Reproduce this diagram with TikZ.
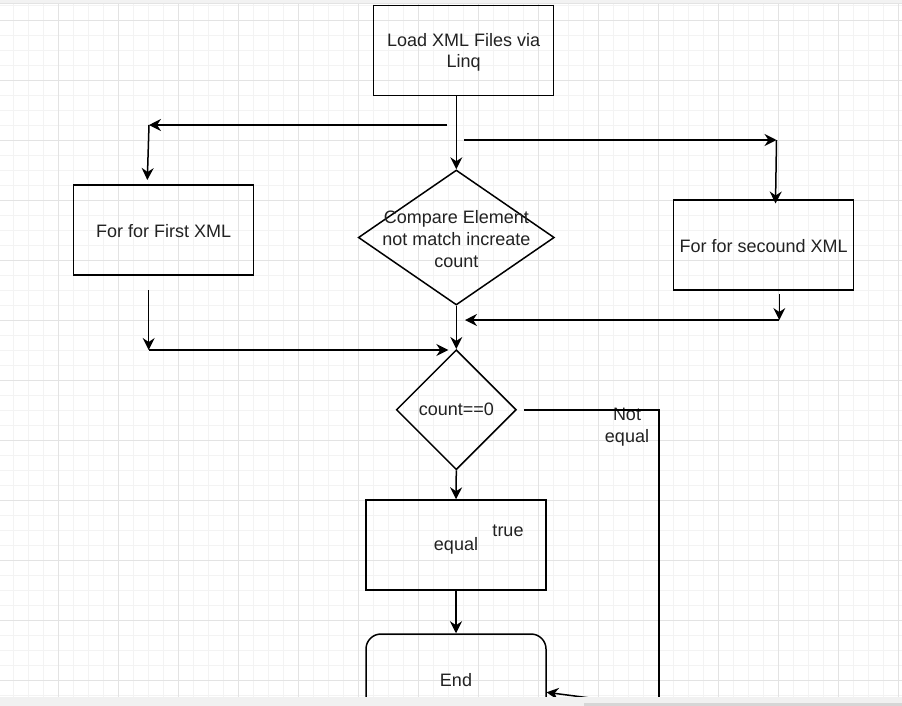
\documentclass[tikz,border=0pt]{standalone}
\usepackage{fontspec}
\setmainfont{Liberation Sans}
\usetikzlibrary{shapes.geometric,arrows.meta}
\definecolor{gridminor}{HTML}{F3F3F3}
\definecolor{gridmajor}{HTML}{E3E3E3}
\definecolor{txt}{HTML}{222222}
\definecolor{bandgray}{HTML}{F1F1F1}
\definecolor{thumbgray}{HTML}{D6D6D6}
\begin{document}
\begin{tikzpicture}[x=1pt,y=-1pt,
  box/.style={draw, line width=1.5pt, minimum width=180pt, minimum height=90pt, inner sep=0pt,
    font=\fontsize{18}{21.6}\selectfont, text=txt, align=center},
  dia/.style={draw, diamond, line width=1.5pt, inner sep=0pt},
  lbl/.style={font=\fontsize{18}{21.6}\selectfont, text=txt, align=center, inner sep=0pt},
  flow/.style={line width=1.5pt, -{Stealth[length=12pt,width=12pt,inset=4pt]}},
  conn/.style={line width=1.5pt},
  minorline/.style={draw=gridminor, line width=1pt},
  majorline/.style={draw=gridmajor, line width=1pt}]
\useasboundingbox (0,0) rectangle (902,705);
\clip (0,0) rectangle (902,705);
\fill[white] (0,0) rectangle (902,705);
% grid
\foreach \i in {0,...,60} {
  \draw[minorline] ({13.7+15*\i},0) -- ({13.7+15*\i},705);
  \draw[minorline] (0,{5+15*\i}) -- (902,{5+15*\i});
}
\foreach \i in {0,...,15} {
  \draw[majorline] ({58.7+60*\i},0) -- ({58.7+60*\i},705);
  \draw[majorline] (0,{20+60*\i}) -- (902,{20+60*\i});
}
% nodes
\node[box, label={[lbl, yshift=-2pt]center:{Load XML Files via\\Linq}}] (load) at (463.7,50.5) {};
\node[box, label={[lbl, yshift=-1pt]center:{For for First XML}}] (first) at (163.7,230) {};
\node[box, label={[lbl, yshift=-1pt]center:{For for secound XML}}] (second) at (763.7,245) {};
\node[dia, minimum width=196pt, minimum height=135pt,
  label={[lbl, yshift=-1.5pt]center:{Compare Element\\not match increate\\count}}] (cmp) at (456.3,237.5) {};
\node[dia, minimum width=120pt, minimum height=120pt,
  label={[lbl]center:{count==0}}] (cnt) at (456.3,409.7) {};
\node[box, label={[lbl, yshift=-1pt]center:{equal}}] (eq) at (456,545) {};
\node[box, rounded corners=15pt, label={[lbl, yshift=-1pt]center:{End}}] (end) at (456,679) {};
\node[lbl] (truelbl) at (508,531) {true};
\node[lbl] (nelbl) at (627,427) {Not\\equal};
% free connector ends
\coordinate (l0) at (447,125);
\coordinate (l1) at (149,125);
\coordinate (l2) at (147.3,180);
\coordinate (r0) at (464,140);
\coordinate (r1) at (776.5,140);
\coordinate (r2) at (775.5,203.5);
\coordinate (s0) at (779.3,294);
\coordinate (s1) at (779.3,320);
\coordinate (s2) at (465,320);
\coordinate (f0) at (148.7,290);
\coordinate (f1) at (148.7,350);
\coordinate (f2) at (448.3,350);
\coordinate (c0) at (524,410);
\coordinate (c1) at (659,410);
\coordinate (c2) at (659,707);
\coordinate (e1) at (546.5,692.3);
% connectors
\draw[flow] (load.south -| cmp.north) -- (cmp.north);
\draw[flow] (l0) -- (l1);
\draw[flow] (l1) -- (l2);
\draw[flow] (r0) -- (r1);
\draw[flow] (r1) -- (r2);
\draw[flow] (s0) -- (s1);
\draw[flow] (s1) -- (s2);
\draw[flow] (f0) -- (f1);
\draw[flow] (f1) -- (f2);
\draw[flow] (cmp.south) -- (cnt.north);
\draw[flow] (cnt.south) -- (eq.north);
\draw[flow] (eq.south) -- (end.north);
\draw[conn] (c0) -- (c1) -- (c2);
\draw[flow] (c2) -- (e1);
% window chrome
\fill[gray!10] (0,0) rectangle (902,2.7);
\fill[gray!22] (0,2.7) rectangle (902,4);
\fill[bandgray] (0,697) rectangle (902,712);
\fill[thumbgray] (584,702.5) rectangle (902,712);
\end{tikzpicture}
\end{document}
